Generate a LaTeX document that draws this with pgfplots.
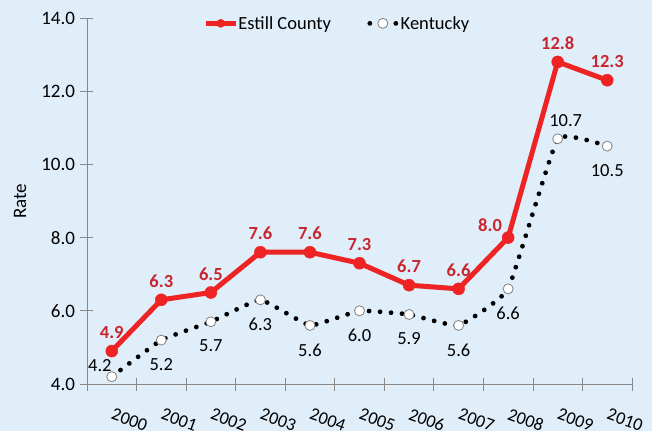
\documentclass[border=0pt]{standalone}
\usepackage{pgfplots}
\pgfplotsset{compat=1.18}
\usepackage{fontspec}
\setmainfont{Carlito}
\definecolor{bg}{RGB}{224,238,250}
\definecolor{redline}{RGB}{238,36,36}
\definecolor{redlab}{RGB}{200,38,47}
\definecolor{axgray}{RGB}{136,136,136}

\pgfplotsset{
  lab/.style={draw=none, mark=none, forget plot, nodes near coords, point meta=y,
    nodes near coords={\pgfmathprintnumber[fixed, fixed zerofill, precision=1]{\pgfplotspointmeta}}},
  redleg/.style={legend image code/.code={\draw[mark repeat=2, mark phase=2, ##1, mark size=4pt, line width=4.5pt] plot coordinates {(0pt,0pt) (15pt,0pt) (30pt,0pt)};}},
  kyleg/.style={legend image code/.code={\draw[##1, mark=none, dash pattern=on 0pt off 26pt, dash phase=-2pt] (0pt,0pt) -- (30pt,0pt); \draw[##1] plot coordinates {(15pt,0pt)};}},
}

\begin{document}
\begin{tikzpicture}
\fill[bg] (-87pt,-47pt) rectangle (565pt,384pt);
\useasboundingbox (-87pt,-47pt) rectangle (565pt,384pt);
\begin{axis}[
  at={(0,0)}, anchor=south west,
  scale only axis, width=545pt, height=366pt,
  xmin=-0.5, xmax=10.5, ymin=4, ymax=14,
  axis x line=bottom, axis y line=left,
  axis line style={axgray, line width=0.8pt, -},
  xtick={0,...,10},
  xticklabels={2000,2001,2002,2003,2004,2005,2006,2007,2008,2009,2010},
  major x tick style={draw=none},
  minor xtick={-0.5,0.5,...,10.5},
  minor tick length=13pt,
  minor x tick style={axgray, line width=0.8pt},
  ytick={4,6,...,14},
  major tick length=13pt,
  tick align=center,
  y tick style={axgray, line width=0.8pt},
  xticklabel style={rotate=-20, anchor=north west, xshift=5pt, yshift=-12pt, font=\fontsize{18}{20}\selectfont},
  yticklabel style={font=\fontsize{19}{21}\selectfont, xshift=-2pt},
  /pgf/number format/assume math mode=true,
  yticklabel={\pgfmathprintnumber[fixed, fixed zerofill, precision=1]{\tick}},
  ylabel={Rate},
  every axis y label/.style={at={(-67pt,0.5)}, rotate=90, anchor=center, font=\fontsize{19}{21}\selectfont},
  legend style={at={(0.458,1.0)}, anchor=north, draw=none, fill=none, yshift=6pt,
    legend columns=2, font=\fontsize{18.5}{20}\selectfont, inner xsep=1pt,
    nodes={inner xsep=0.5pt},
    /tikz/every even column/.append style={column sep=34pt}},
  legend cell align=left,
  clip=false,
]
\addplot[redline, line width=5pt, mark=*, mark size=6pt,
  mark options={fill=redline, draw=redline, line width=0.5pt}, redleg]
coordinates {(0,4.9) (1,6.3) (2,6.5) (3,7.6) (4,7.6) (5,7.3) (6,6.7) (7,6.6) (8,8.0) (9,12.8) (10,12.3)};
\addlegendentry{Estill County}
\addplot[black, line width=4.8pt, line cap=round, dash pattern=on 0pt off 11pt, smooth, tension=0.2,
  mark=*, mark size=5pt,
  mark options={solid, fill=white, draw=gray, line width=0.8pt}, kyleg]
coordinates {(0,4.2) (1,5.2) (2,5.7) (3,6.3) (4,5.6) (5,6.0) (6,5.9) (7,5.6) (8,6.6) (9,10.7) (10,10.5)};
\addlegendentry{Kentucky}
% labels
\addplot[lab, every node near coord/.append style={anchor=south, text=redlab, font=\fontsize{18.5}{20}\selectfont\bfseries, inner sep=2pt, yshift=10pt}]
coordinates {(0,4.9) (1,6.3) (2,6.5) (3,7.6) (4,7.6) (5,7.3) (6,6.7) (7,6.6) (9,12.8) (10,12.3)};
\addplot[lab, every node near coord/.append style={anchor=east, text=redlab, font=\fontsize{18.5}{20}\selectfont\bfseries, inner sep=2pt, xshift=-4pt, yshift=12pt}]
coordinates {(8,8.0)};
\addplot[lab, every node near coord/.append style={anchor=north, text=black, font=\fontsize{18.5}{20}\selectfont, inner sep=2pt, yshift=-16pt}]
coordinates {(1,5.2) (2,5.7) (3,6.3) (4,5.6) (5,6.0) (6,5.9) (7,5.6) (8,6.6) (10,10.5)};
\addplot[lab, every node near coord/.append style={anchor=south, text=black, font=\fontsize{18.5}{20}\selectfont, inner sep=2pt, xshift=8pt, yshift=10pt}]
coordinates {(9,10.7)};
\addplot[lab, every node near coord/.append style={anchor=south east, text=black, font=\fontsize{18.5}{20}\selectfont, inner sep=2pt, xshift=2pt, yshift=3pt}]
coordinates {(0,4.2)};
\end{axis}
\end{tikzpicture}
\end{document}
